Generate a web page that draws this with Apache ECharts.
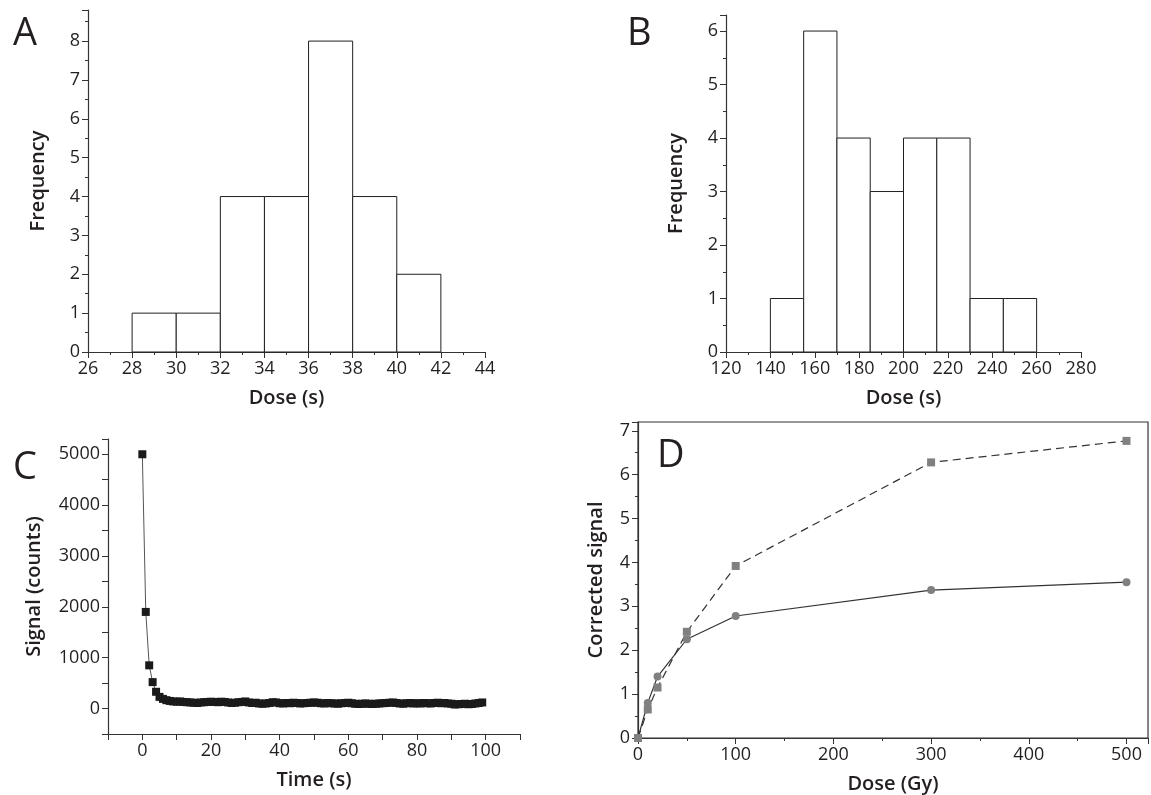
<!DOCTYPE html>
<html>
<head>
<meta charset="utf-8">
<script src="https://cdn.jsdelivr.net/npm/echarts@6/dist/echarts.min.js"></script>
<style>
	html, body { margin: 0; padding: 0; background: #fff; }
	#main { width: 1151px; height: 795px; }
</style>
</head>
<body>
<div id="main"></div>
<script>
// panel A histogram: bin edges and counts
var binsA = [28, 30, 32, 34, 36, 38, 40, 42];
var countsA = [1, 1, 4, 4, 8, 4, 2];

// panel B histogram
var binsB = [140, 155, 170, 185, 200, 215, 230, 245, 260];
var countsB = [1, 6, 4, 3, 4, 4, 1, 1];

// panel C decay curve, one point per second
var timeC = [];
for (var t = 0; t < 100; t++) timeC.push(t);
var signalC = [
	5000, 1900, 850, 520, 330, 230, 190, 165, 150, 140,
	135, 140, 130, 125, 120, 115, 110, 120, 125, 130,
	135, 130, 125, 135, 130, 120, 110, 115, 125, 130,
	140, 120, 110, 115, 100, 95, 100, 110, 125, 120,
	105, 100, 110, 105, 115, 110, 100, 105, 110, 115,
	120, 115, 105, 100, 110, 105, 100, 95, 105, 110,
	115, 105, 95, 90, 95, 100, 95, 90, 95, 100,
	105, 110, 115, 120, 110, 100, 95, 105, 110, 100,
	105, 100, 110, 105, 100, 110, 115, 105, 110, 100,
	95, 80, 85, 90, 95, 85, 90, 100, 110, 120
];

// panel D dose response
var doseD = [0, 10, 20, 50, 100, 300, 500];
var circlesD = [0, 0.8, 1.4, 2.25, 2.78, 3.37, 3.55];
var squaresD = [0, 0.65, 1.15, 2.42, 3.92, 6.28, 6.77];

var FONT = "Open Sans";
var TXT = "#231f20";

var histData = function( bins, counts ){
	var out = [];
	for (var i = 0; i < counts.length; i++) out.push([bins[i], bins[i + 1], counts[i]]);
	return out;
};

var histRender = function( params, api ){
	var p0 = api.coord([api.value(0), api.value(2)]);
	var p1 = api.coord([api.value(1), 0]);
	return {
		type: 'rect',
		shape: { x: p0[0], y: p0[1], width: p1[0] - p0[0], height: p1[1] - p0[1] },
		style: { fill: '#fff', stroke: '#231f20', lineWidth: 1 }
	};
};

var lbl = function( extra ){
	var base = { color: TXT, fontFamily: FONT, fontSize: 18 };
	for (var k in extra) base[k] = extra[k];
	return base;
};

var axisCommon = function( extra ){
	var base = {
		type: 'value',
		axisLine: { show: true, onZero: false, lineStyle: { color: '#333', width: 1.2 } },
		axisTick: { show: true, length: 6, lineStyle: { color: '#333' } },
		minorTick: { show: true, splitNumber: 2, length: 3, lineStyle: { color: '#333' } },
		splitLine: { show: false },
		axisLabel: lbl({}),
		nameTextStyle: { color: TXT, fontFamily: FONT, fontSize: 20, fontWeight: 600 }
	};
	for (var k in extra) base[k] = extra[k];
	return base;
};

var letter = function( txt, left, top ){
	return { text: txt, left: left, top: top, textStyle: { fontFamily: FONT, fontSize: 38, fontWeight: 'normal', color: TXT } };
};

var chart = echarts.init(document.getElementById('main'));

var option = {
	animation: false,
	backgroundColor: '#fff',
	title: [ letter('A', 8, 10), letter('B', 622, 10), letter('C', 8, 444), letter('D', 652, 432) ],
	grid: [
		{ left: 88, top: 10, width: 397, height: 342 },
		{ left: 726, top: 15, width: 355, height: 337 },
		{ left: 108, top: 439, width: 412, height: 295 },
		{ left: 638, top: 422, width: 510, height: 321, show: true, borderColor: '#333', borderWidth: 1.2, backgroundColor: 'transparent' }
	],
	xAxis: [
		axisCommon({ gridIndex: 0, min: 26, max: 44, interval: 2, name: 'Dose (s)', nameLocation: 'middle', nameGap: 36 }),
		axisCommon({ gridIndex: 1, min: 120, max: 280, interval: 20, name: 'Dose (s)', nameLocation: 'middle', nameGap: 36 }),
		axisCommon({ gridIndex: 2, min: -10, max: 110, interval: 10, name: 'Time (s)', nameLocation: 'middle', nameGap: 36,
			minorTick: { show: false },
			axisLabel: lbl({ formatter: function(v){ return (v >= 0 && v % 20 === 0) ? v : ''; } }) }),
		axisCommon({ gridIndex: 3, min: 0, max: 522, interval: 100, name: 'Dose (Gy)', nameLocation: 'middle', nameGap: 36,
			axisLabel: lbl({ showMaxLabel: false }) })
	],
	yAxis: [
		axisCommon({ gridIndex: 0, min: 0, max: 8.8, interval: 1, name: 'Frequency', nameLocation: 'middle', nameGap: 40,
			axisLabel: lbl({ showMaxLabel: false }) }),
		axisCommon({ gridIndex: 1, min: 0, max: 6.3, interval: 1, name: 'Frequency', nameLocation: 'middle', nameGap: 40,
			axisLabel: lbl({ showMaxLabel: false }) }),
		axisCommon({ gridIndex: 2, min: -500, max: 5300, interval: 500, name: 'Signal (counts)', nameLocation: 'middle', nameGap: 64,
			minorTick: { show: false },
			axisLabel: lbl({ formatter: function(v){ return (v >= 0 && v % 1000 === 0) ? v : ''; } }) }),
		axisCommon({ gridIndex: 3, min: 0, max: 7.2, interval: 1, name: 'Corrected signal', nameLocation: 'middle', nameGap: 32,
			axisLabel: lbl({ showMaxLabel: false }) })
	],
	series: [
		{ type: 'custom', xAxisIndex: 0, yAxisIndex: 0, renderItem: histRender, data: histData(binsA, countsA) },
		{ type: 'custom', xAxisIndex: 1, yAxisIndex: 1, renderItem: histRender, data: histData(binsB, countsB) },
		{
			type: 'line', xAxisIndex: 2, yAxisIndex: 2,
			data: timeC.map(function(t, i){ return [t, signalC[i]]; }),
			symbol: 'rect', symbolSize: 8,
			itemStyle: { color: '#1a1a1a' },
			lineStyle: { color: '#555', width: 1 }
		},
		{
			type: 'line', xAxisIndex: 3, yAxisIndex: 3,
			data: doseD.map(function(d, i){ return [d, circlesD[i]]; }),
			symbol: 'circle', symbolSize: 8,
			itemStyle: { color: '#808080' },
			lineStyle: { color: '#333', width: 1.2 }
		},
		{
			type: 'line', xAxisIndex: 3, yAxisIndex: 3,
			data: doseD.map(function(d, i){ return [d, squaresD[i]]; }),
			symbol: 'rect', symbolSize: 8,
			itemStyle: { color: '#808080' },
			lineStyle: { color: '#333', width: 1.2, type: [8, 5] }
		}
	]
};

chart.setOption(option);
window.addEventListener("resize", function(){ chart.resize(); });
</script>
</body>
</html>
